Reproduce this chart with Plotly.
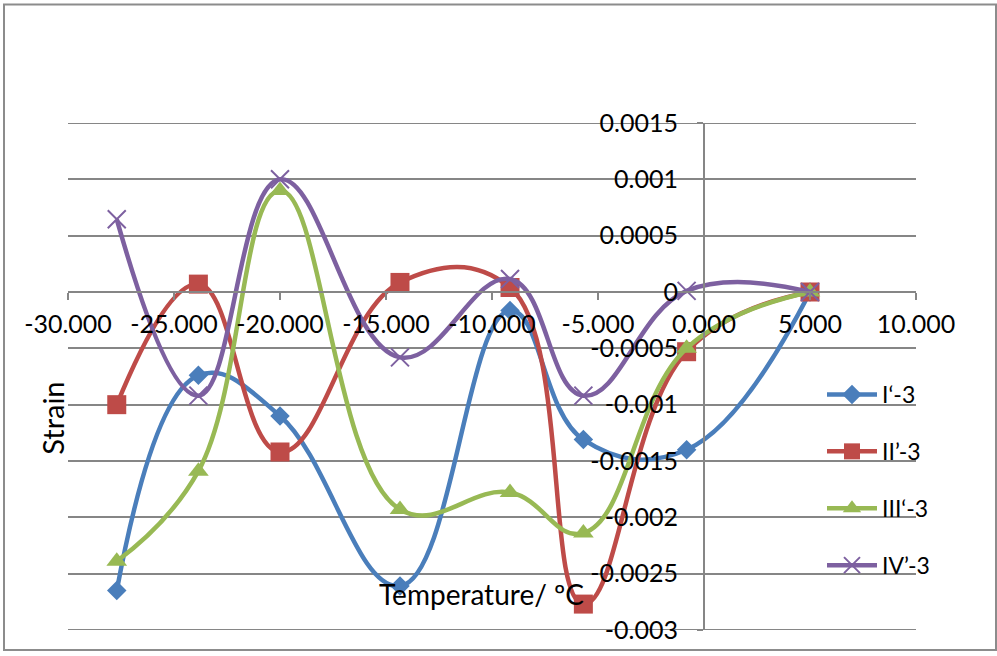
import plotly.graph_objects as go

temperature = [-27.7, -23.85, -20.0, -14.34, -9.15, -5.69, -0.82, 5.0]
s1 = [-0.00265, -0.00074, -0.0011, -0.00261, -0.000165, -0.00131, -0.0014, 0.0]
s2 = [-0.001, 0.00007, -0.00142, 0.000085, 0.00004, -0.00277, -0.00053, 0.0]
s3 = [-0.00239, -0.00159, 0.0009, -0.00193, -0.00178, -0.00214, -0.0005, 0.0]
s4 = [0.000645, -0.00092, 0.001, -0.00058, 0.000115, -0.00092, 0.00001, 0.0]
names = ["I‘-3", "II’-3", "III‘-3", "IV’-3"]
colors = ["#4A7EBB", "#BE4B48", "#98B954", "#7D60A0"]
symbols = ["diamond", "square", "triangle-up", "x-thin-open"]
sizes = [15, 19, 18, 18]

x_ticks = [-30, -25, -20, -15, -10, -5, 0, 5, 10]
x_ticktext = ["-30.000", "-25.000", "-20.000", "-15.000", "-10.000", "-5.000", "0.000", "5.000", "10.000"]
y_ticks = [-0.003, -0.0025, -0.002, -0.0015, -0.001, -0.0005, 0, 0.0005, 0.001, 0.0015]
y_ticktext = ["-0.003", "-0.0025", "-0.002", "-0.0015", "-0.001", "-0.0005", "0", "0.0005", "0.001", "0.0015"]

FONT = "Lato"
W, H = 997, 656
L, R, T, B = 68, 81, 123, 24
x_range = [-30, 10]
y_range = [-0.003, 0.0015]
PW, PH = W - L - R, H - T - B
GRID = "#868686"

fig = go.Figure()
for i, ys in enumerate([s1, s2, s3, s4]):
    marker = dict(symbol=symbols[i], size=sizes[i], color=colors[i])
    if symbols[i].startswith("x-thin"):
        marker["line"] = dict(color=colors[i], width=2)
    fig.add_trace(go.Scatter(
        x=temperature, y=ys, name=names[i], mode="lines+markers",
        line=dict(color=colors[i], width=4.5, shape="spline", smoothing=1.2),
        marker=marker, legendgroup=str(i)))

y0_pos = (0 - y_range[0]) / (y_range[1] - y_range[0])
x0_pos = (0 - x_range[0]) / (x_range[1] - x_range[0])

fig.update_layout(
    width=W, height=H,
    margin=dict(l=L, r=R, t=T, b=B),
    paper_bgcolor="white", plot_bgcolor="white",
    font=dict(family=FONT, size=25, color="black"),
    showlegend=True,
    legend=dict(x=(822 - L) / PW, y=(632 - 374) / PH,
                xanchor="left", yanchor="top", bgcolor="rgba(0,0,0,0)",
                traceorder="grouped", tracegroupgap=24, itemwidth=50,
                font=dict(family=FONT, size=23)),
    xaxis=dict(range=x_range, tickvals=x_ticks, ticktext=x_ticktext,
               showgrid=False, zeroline=False, showline=True,
               linecolor=GRID, linewidth=2,
               ticks="outside", ticklen=7, tickwidth=2, tickcolor=GRID,
               ticklabelstandoff=3,
               anchor="free", position=y0_pos,
               tickfont=dict(family=FONT, size=25)),
    yaxis=dict(range=y_range, tickvals=y_ticks, ticktext=y_ticktext,
               showgrid=True, gridcolor=GRID, gridwidth=2,
               zeroline=False, showline=True,
               linecolor=GRID, linewidth=2,
               ticks="outside", ticklen=6, tickwidth=2, tickcolor=GRID,
               ticklabelstandoff=14,
               anchor="free", position=x0_pos,
               tickfont=dict(family=FONT, size=25)),
)

# edge gridlines (Plotly hides gridlines that sit exactly on the range ends)
for yv in (y_range[0], y_range[1]):
    fig.add_shape(type="line", xref="paper", yref="y", x0=0, x1=1, y0=yv, y1=yv,
                  line=dict(color=GRID, width=2), layer="below")

fig.add_annotation(text="Strain", xref="paper", yref="paper",
                   x=(53 - L) / PW, y=(632 - 420) / PH,
                   textangle=-90, showarrow=False,
                   font=dict(family=FONT, size=29), xanchor="center", yanchor="middle")
fig.add_annotation(text="Temperature/ ºC", xref="paper", yref="paper",
                   x=(481 - L) / PW, y=(632 - 596) / PH,
                   showarrow=False,
                   font=dict(family=FONT, size=28), xanchor="center", yanchor="middle")

fig.add_shape(type="rect", xref="paper", yref="paper",
              x0=(4 - L) / PW, x1=(996 - L) / PW,
              y0=(632 - 652) / PH, y1=(632 - 4) / PH,
              line=dict(color="#8C8C8C", width=2), fillcolor="rgba(0,0,0,0)", layer="below")

fig.write_html("out.html")
